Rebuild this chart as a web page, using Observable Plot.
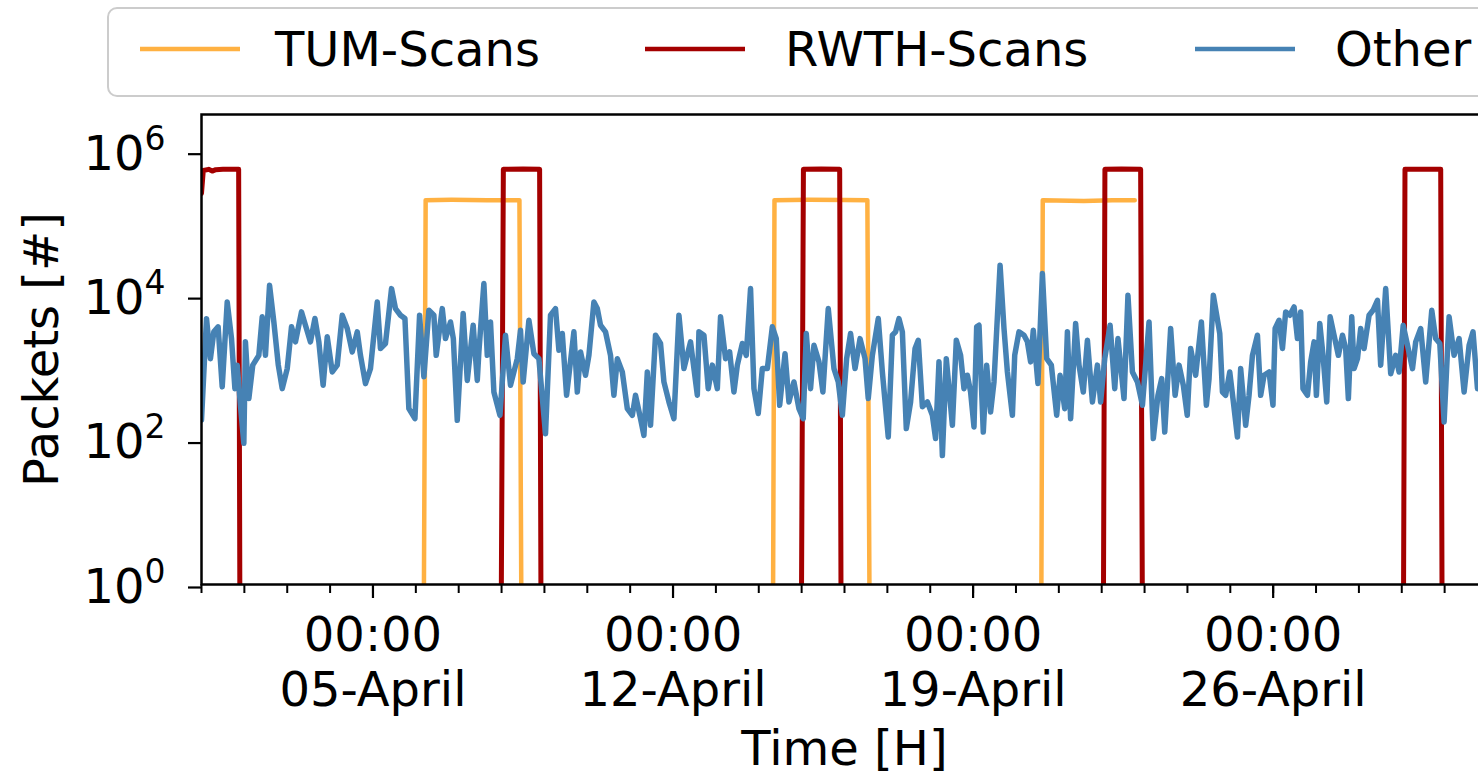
<!DOCTYPE html>
<html>
<head>
<meta charset="utf-8">
<script src="https://cdn.jsdelivr.net/npm/d3@7"></script>
<script src="https://cdn.jsdelivr.net/npm/@observablehq/plot@0.6"></script>
<style>
  html, body { margin: 0; padding: 0; overflow: hidden; background: white; width: 1478px; height: 777px; }
  #wrap { position: relative; width: 1478px; height: 777px; overflow: hidden; }
  #chart { position: absolute; left: 0; top: 0; width: 1507px; }
  #legend { position: absolute; left: 0; top: 0; }
</style>
</head>
<body>
<div id="wrap">
  <div id="chart"></div>
  <svg id="legend" width="1478" height="100"></svg>
</div>
<script>
// ---- data (hours since 01-April 00:00, packets) ----
const seriesNames = ["TUM-Scans", "RWTH-Scans", "Other"];
const seriesColors = ["#ffb142", "#a40000", "#4682b4"];

const tumHours   = [0, 124.0, 125.5, 140, 160, 178.0, 179.6, 319.6, 320.8, 340, 360, 372.8, 374.6, 469.8, 471.0, 494, 510, 522.5];
const tumPackets = [0, 0, 210000, 212000, 210000, 210000, 0, 0, 210000, 212000, 211000, 210000, 0, 0, 210000, 205000, 210000, 210000];

const rwthHours   = [0, 1, 4, 6, 8, 12, 20.8, 21.8, 167.3, 169.0, 180, 189.3, 190.4, 335.4, 337.0, 347, 357.3, 358.4, 504.6, 505.8, 515, 525.8, 527.2, 672.6, 673.8, 684, 693.8, 694.9, 720];
const rwthPackets = [260000, 540000, 560000, 530000, 555000, 560000, 560000, 0, 0, 560000, 565000, 560000, 0, 0, 560000, 565000, 560000, 0, 0, 560000, 565000, 560000, 0, 0, 560000, 560000, 560000, 0, 0];

const otherHours = [
  0, 2.8, 5.0, 6.9, 9.3, 11.6, 14.4, 16.8, 18.7, 20.0, 21.8, 23.7, 24.6, 26.5, 28.7, 32.1, 34.0, 35.8, 38.1, 40.5,
  43.0, 45.2, 48.0, 50.4, 52.6, 56.0, 58.2, 61.0, 63.5, 65.7, 68.1, 70.4, 73.2, 76.0, 78.8, 81.6, 84.4, 87.2, 89.0, 91.8,
  94.6, 98.4, 100.2, 103.0, 106.4, 108.6, 111.4, 113.9, 116.1, 119.5, 122.1, 124.5, 127.3, 130.1, 131.4, 134.8, 136.6, 139.4,
  141.0, 143.2, 146.5, 148.8, 152.1, 154.4, 155.3, 158.1, 160.0, 161.8, 163.7, 167.1, 170.2, 173.0, 176.8, 178.6, 180.1,
  183.3, 186.1, 188.9, 192.6, 195.4, 198.2, 200.1, 202.0, 204.4, 208.5, 210.4, 212.2, 215.0, 216.9, 219.7, 221.6, 223.4,
  226.2, 229.0, 230.9, 232.8, 235.6, 238.4, 241.2, 243.0, 245.8, 247.7, 249.6, 251.4, 254.2, 257.0, 258.9, 261.7, 264.5,
  267.3, 270.1, 273.8, 277.6, 278.5, 281.3,
  283.7, 286.0, 288.8, 290.6, 293.4, 295.7, 298.1, 300.0, 302.8, 305.0, 307.4, 309.3, 311.7, 314.0, 316.8, 319.6, 321.8,
  323.7, 326.7, 328.9, 331.7, 334.5, 336.9, 338.6, 341.0, 342.9, 345.7, 347.9, 350.9, 354.1, 356.5, 358.8, 361.2, 363.4,
  365.9, 368.7, 371.5, 373.3, 375.6, 378.9, 381.2, 384.5, 386.8, 388.6, 390.5, 392.4, 394.6, 397.0, 399.5, 401.3, 403.6,
  406.4, 409.2, 411.0, 412.9, 414.8, 417.0, 420.4, 422.6, 425.0,
  426.9, 428.8, 430.6, 432.5, 434.0, 435.3, 437.7, 439.6, 441.8, 443.7, 447.1, 449.3, 451.2, 454.0, 455.3, 457.7, 460.5,
  462.4, 464.2, 465.7, 468.3, 470.8, 473.2, 475.8, 478.8, 480.7, 483.3, 484.8, 486.6, 489.4, 491.3, 493.7, 496.0, 498.8,
  501.6, 503.4, 505.7, 508.7, 511.3, 513.1, 516.5, 518.7, 521.2, 524.0, 526.8, 530.5, 532.9, 535.5, 537.6, 539.3, 542.6,
  545.1, 547.3, 549.7, 551.9, 553.8, 556.6, 559.8, 562.6, 564.1, 566.5,
  570.1, 571.6, 573.4, 575.7, 577.5, 580.0, 581.8, 584.6, 586.5, 588.4, 591.2, 593.0, 594.9, 597.7, 599.9, 601.1, 603.3,
  605.2, 607.0, 609.3, 611.7, 613.6, 615.4, 616.7, 619.2, 621.0, 622.9, 624.2, 626.1, 627.9, 630.0, 631.9, 634.1, 636.5,
  638.8, 640.6, 642.1, 644.0, 645.3, 647.2, 649.0, 650.9, 653.7, 655.9, 658.4, 660.2, 663.0, 665.8, 668.6, 670.5, 672.8,
  675.2, 678.0, 679.8, 682.6, 685.4, 688.8, 691.0, 693.3, 695.7, 698.5, 701.3, 704.1, 706.9, 709.7, 711.9, 714.4, 717.0, 720.0
];
const otherPackets = [
  190, 4800, 1340, 3150, 3700, 545, 8170, 2540, 515, 1090, 303, 90, 2290, 375, 1090, 1490, 5080, 1490, 13900, 4320,
  1090, 515, 976, 3700, 2290, 5950, 3890, 2290, 4810, 2290, 573, 2690, 877, 1090, 5350, 3500, 1660, 3150, 1490, 605,
  976, 8170, 1850, 2170, 12500, 6610, 5350, 4810, 272, 198, 5350, 750, 6270, 5350, 1490, 6610, 2540, 4320,
  2540, 188, 5650, 670, 3890, 670, 1660, 14700, 1490, 4320, 463, 220, 2830, 573, 1340, 3320, 638,
  4560, 1570, 1340, 122, 5350, 6610, 1750, 2990, 417, 3150, 463, 1660, 789, 1490, 8170, 6610, 3890,
  3150, 1490, 417, 1340, 877, 272, 220, 417, 198, 116, 877, 160, 2830, 2170, 638, 337, 198,
  5350, 976, 2290, 417, 3150, 2830,
  515, 1090, 515, 5080, 1340, 1660, 463, 1090, 2170, 1490, 12500, 515, 233, 976, 976, 3700, 2540,
  303, 1570, 337, 638, 272, 198, 2990, 515, 2060, 1210, 463, 6610, 976, 638, 220, 1340, 2990,
  976, 2540, 1340, 375, 1490, 4810, 877, 110, 2830, 3150, 4810, 3150, 144, 337, 1850, 2410, 290,
  337, 220, 105, 1210, 61, 1340, 160, 2410, 1490,
  515, 789, 463, 152, 3700, 3890, 129, 1090, 245, 638, 26300, 3500, 877, 220, 1490, 3150, 2830,
  2290, 1210, 3320, 605, 20200, 1340, 1090, 220, 789, 272, 3150, 198, 4100, 1090, 463, 2410, 337,
  1090, 337, 1340, 3890, 515, 2540, 375, 10100, 877, 638, 303, 4320, 105, 417, 709, 129, 3500,
  417, 1090, 573, 220, 1850, 789, 4320, 303, 709, 10100,
  2990, 463, 417, 877, 375, 110, 976, 160, 417, 1490, 2830, 417, 789, 877, 303, 3500, 4560,
  1850, 5950, 5350, 6980, 2540, 5950, 515, 417, 1210, 2290, 417, 4100, 1490, 337, 5080, 2830, 1490,
  2830, 1850, 375, 5080, 976, 1340, 3500, 1850, 5350, 6270, 8620, 1090, 12500, 830, 1490, 877, 3890,
  2060, 976, 2290, 3500, 638, 6270, 2540, 2170, 178, 5080, 1490, 2540, 463, 2060, 3150, 515, 1800, 900
];

const yTicks = [1, 1e2, 1e4, 1e6];
const majorTickDates = ["2020-04-05", "2020-04-12", "2020-04-19", "2020-04-26"];
const xLabel = "Time [H]";
const yLabel = "Packets [#]";

// ---- build tables ----
const start = Date.UTC(2020, 3, 1);
const toDate = h => new Date(start + h * 3600e3);
const rows = (hours, vals, name) => hours.map((h, i) => ({time: toDate(h), packets: vals[i], series: name}));
const tum = rows(tumHours, tumPackets, seriesNames[0]);
const rwth = rows(rwthHours, rwthPackets, seriesNames[1]);
const other = rows(otherHours, otherPackets, seriesNames[2]);
const majorTicks = majorTickDates.map(s => new Date(s + "T00:00:00Z"));
const minorTicks = d3.utcDay.range(toDate(0), toDate(720));
const yPos = d => Math.max(d.packets, 1e-3);

const chart = Plot.plot({
  width: 1507,
  height: 777,
  marginTop: 114,
  marginBottom: 193,
  marginLeft: 201,
  marginRight: 20,
  style: {fontFamily: "DejaVu Sans", fontSize: "48px", color: "black", background: "transparent", maxWidth: "none", overflow: "visible"},
  x: {type: "utc", domain: [toDate(0), toDate(720)]},
  y: {type: "log", domain: [1, 3.22e6]},
  marks: [
    Plot.line(tum, {x: "time", y: yPos, stroke: seriesColors[0], strokeWidth: 4.5, clip: true}),
    Plot.line(rwth, {x: "time", y: yPos, stroke: seriesColors[1], strokeWidth: 5, clip: true}),
    Plot.line(other, {x: "time", y: yPos, stroke: seriesColors[2], strokeWidth: 5.5, clip: true}),
    Plot.frame({stroke: "black", strokeWidth: 2.5}),
    Plot.axisX({ticks: minorTicks, tickSize: 9, tickFormat: () => "", label: null, strokeWidth: 2}),
    Plot.axisX({ticks: majorTicks, tickSize: 14, tickPadding: 13, tickFormat: d3.utcFormat("%H:%M\n%d-%B"), lineHeight: 1.15, label: null, strokeWidth: 2.2}),
    Plot.axisY({ticks: yTicks, tickSize: 13, tickPadding: 23, tickFormat: d => String(Math.round(Math.log10(d))), label: null, strokeWidth: 2.2, dy: 3}),
    Plot.text([xLabel], {frameAnchor: "bottom", dy: 165, fontSize: 48, lineAnchor: "middle", textAnchor: "middle"}),
    Plot.text([yLabel], {frameAnchor: "left", dx: -159, rotate: -90, fontSize: 48, lineAnchor: "middle", textAnchor: "middle"})
  ]
});

// superscript exponents on the y tick labels
const svgns = "http://www.w3.org/2000/svg";
chart.querySelectorAll('g[aria-label="y-axis tick label"] text').forEach(t => {
  const e = t.textContent;
  t.textContent = "";
  t.appendChild(document.createTextNode("10"));
  const ts = document.createElementNS(svgns, "tspan");
  ts.setAttribute("dy", "-20");
  ts.setAttribute("font-size", "33");
  ts.textContent = e;
  t.appendChild(ts);
});
document.getElementById("chart").appendChild(chart);

// legend
const lg = d3.select("#legend");
lg.append("rect").attr("x", 108).attr("y", 8).attr("width", 1480).attr("height", 88)
  .attr("rx", 9).attr("fill", "white").attr("stroke", "#cccccc").attr("stroke-width", 2);
const lineX = [140, 645, 1195];
const textX = [275, 785, 1335];
seriesNames.forEach((n, i) => {
  lg.append("line").attr("x1", lineX[i]).attr("x2", lineX[i] + 100).attr("y1", 49).attr("y2", 49)
    .attr("stroke", seriesColors[i]).attr("stroke-width", 4.5);
  lg.append("text").attr("x", textX[i]).attr("y", 66).attr("font-family", "DejaVu Sans")
    .attr("font-size", 48).attr("fill", "black").text(n);
});
</script>
</body>
</html>
